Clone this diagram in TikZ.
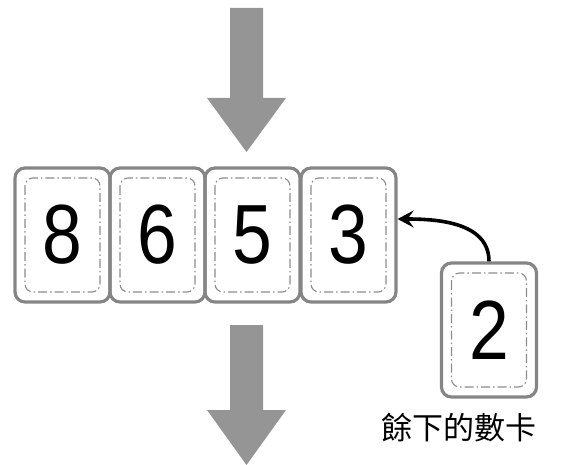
\documentclass[tikz,border=0pt]{standalone}
\usepackage{fontspec}
\setmainfont{Liberation Sans}
\newfontfamily\digits[FakeStretch=0.85]{Liberation Sans}
\newfontfamily\cjk{Noto Sans CJK TC}
\usetikzlibrary{arrows.meta}

\definecolor{cardgray}{HTML}{858585}
\definecolor{dashgray}{HTML}{8C8C8C}
\definecolor{arrowgray}{HTML}{959595}

\tikzset{
  card/.style={draw=cardgray, line width=3.2pt, rounded corners=10pt,
    minimum width=95pt, minimum height=134pt, inner sep=0pt,
    font=\digits\fontsize{84}{84}\selectfont,
    path picture={\draw[dashgray, line width=1.1pt, rounded corners=8pt,
      dash pattern=on 9pt off 3pt on 1.5pt off 3pt]
      ([shift={(10pt,-10pt)}]path picture bounding box.north west) rectangle
      ([shift={(-10pt,10pt)}]path picture bounding box.south east);}},
  bigarrow/.style={fill=arrowgray, draw=none},
  moveline/.style={-{Stealth[length=16pt,width=17pt,inset=6pt]}, line width=3.6pt}
}

\begin{document}
\begin{tikzpicture}[x=1pt,y=-1pt]
  \useasboundingbox (0,0) rectangle (562,465);

  % incoming and outgoing arrows
  \fill[bigarrow] (230,8) -- (263,8) -- (263,98) -- (286,98) -- (246.5,152)
    -- (207,98) -- (230,98) -- cycle;
  \fill[bigarrow] (230,325) -- (263,325) -- (263,410) -- (286,410) -- (246.5,465)
    -- (207,410) -- (230,410) -- cycle;

  % the row of cards
  \node[card] (c8) at (62.5,235) {8};
  \node[card] (c6) at (157.5,235) {6};
  \node[card] (c5) at (252.5,235) {5};
  \node[card] (c3) at (348.5,235) {3};

  % the card left over
  \node[card] (c2) at (489,330) {2};
  \node[font=\cjk\fontsize{31}{31}\selectfont] (rest) at (459,428) {餘下的數卡};

  \draw[moveline] (c2.north) to[out=90,in=0] ([yshift=16pt]c3.east);
\end{tikzpicture}
\end{document}
